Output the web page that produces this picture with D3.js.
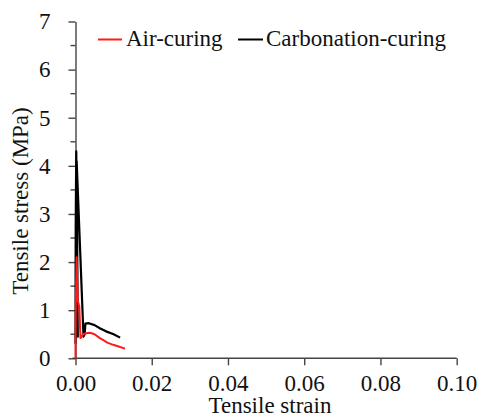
<!DOCTYPE html>
<html><head><meta charset="utf-8">
<script src="https://cdn.jsdelivr.net/npm/d3@7"></script>
<style>body{margin:0;background:#fff}svg{display:block}.lbl{font-family:'Liberation Serif';font-size:23px;fill:#111}</style>
</head><body><svg id="c" width="478" height="419"></svg>
<script>
const xTicks = [0, 0.02, 0.04, 0.06, 0.08, 0.10];
const yTicks = [0, 1, 2, 3, 4, 5, 6, 7];
const yMinor = [0.5, 1.5, 2.5, 3.5, 4.5, 5.5, 6.5];
const seriesNames = ["Air-curing", "Carbonation-curing"];
const seriesColors = ["#ff1a1a", "#000000"];
const airStrain = [0, 0, 0.0001, 0.0003, 0.0006, 0.001, 0.0013, 0.0016, 0.002, 0.0028, 0.0038, 0.005, 0.0064, 0.0073, 0.0082, 0.0092, 0.0099, 0.0115, 0.013];
const airStress = [0, 0.3, 1.2, 2.1, 1.2, 1.07, 0.42, 0.45, 0.5, 0.52, 0.53, 0.5, 0.42, 0.38, 0.33, 0.3, 0.28, 0.24, 0.2];
const carbStrain = [0, 0.00005, 0.0002, 0.0006, 0.0003, 0.0021, 0.0024, 0.0026, 0.0035, 0.005, 0.0065, 0.008, 0.01, 0.0117];
const carbStress = [0.3, 2.7, 4.3, 0.45, 4.1, 0.45, 0.5, 0.72, 0.73, 0.69, 0.62, 0.56, 0.5, 0.43];

const svg = d3.select("#c");
// warm-up text so the serif face is resolved before the real labels
svg.append("text").attr("class", "lbl").attr("x", -500).attr("y", -500).attr("opacity", 0).text("warm");

const x = d3.scaleLinear().domain([0, 0.1]).range([75.5, 456.7]);
const y = d3.scaleLinear().domain([0, 7]).range([358.3, 21.5]);
const axisColor = "#444";

// x axis
const gx = svg.append("g").attr("transform", `translate(0,${y(0)})`)
  .call(d3.axisBottom(x).tickValues(xTicks).tickFormat(d3.format(".2f")).tickSize(7).tickSizeOuter(0));
gx.attr("font-family", null).attr("font-size", null);
gx.select(".domain").attr("stroke", axisColor).attr("stroke-width", 1.4).attr("d", `M${x(0)-3},0H${x(0.1)}`);
gx.selectAll(".tick line").attr("stroke", axisColor).attr("stroke-width", 1.4);
gx.selectAll(".tick text").attr("dy", 0).attr("y", 33).attr("fill", null).attr("class", "lbl");

// y axis
const gy = svg.append("g").attr("transform", `translate(${x(0)},0)`)
  .call(d3.axisLeft(y).tickValues(yTicks).tickFormat(d3.format("d")).tickSize(7).tickPadding(18).tickSizeOuter(0));
gy.attr("font-family", null).attr("font-size", null);
gy.select(".domain").attr("stroke", axisColor).attr("stroke-width", 1.4);
gy.selectAll(".tick line").attr("stroke", axisColor).attr("stroke-width", 1.4);
gy.selectAll(".tick text").attr("fill", null).attr("class", "lbl");
gy.selectAll(".minor").data(yMinor).enter().append("line")
  .attr("x1", -5).attr("x2", 0).attr("y1", d => y(d)).attr("y2", d => y(d))
  .attr("stroke", axisColor).attr("stroke-width", 1.4);

// titles
svg.append("text").attr("class", "lbl").attr("x", 270).attr("y", 413).attr("text-anchor", "middle").text("Tensile strain");
svg.append("text").attr("class", "lbl").attr("transform", "translate(28,201) rotate(-90)").attr("text-anchor", "middle").text("Tensile stress (MPa)");

// lines
const line = d3.line().x(d => x(d[0])).y(d => y(d[1]));
const airData = airStrain.map((s, i) => [s, airStress[i]]);
const carbData = carbStrain.map((s, i) => [s, carbStress[i]]);
svg.append("path").datum(carbData).attr("d", line).attr("fill", "none").attr("stroke", seriesColors[1]).attr("stroke-width", 2.2).attr("stroke-linejoin", "round");
svg.append("path").datum(airData).attr("d", line).attr("fill", "none").attr("stroke", seriesColors[0]).attr("stroke-width", 2).attr("stroke-linejoin", "round");

// legend
const leg = [{x1: 98, x2: 122, tx: 126}, {x1: 238, x2: 263, tx: 266}];
leg.forEach((l, i) => {
  svg.append("line").attr("x1", l.x1).attr("x2", l.x2).attr("y1", 39.5).attr("y2", 39.5).attr("stroke", seriesColors[i]).attr("stroke-width", 2);
  svg.append("text").attr("class", "lbl").attr("x", l.tx).attr("y", 46).text(seriesNames[i]);
});

// force font re-resolution once fonts are available
function refont() {
  svg.selectAll("text.lbl").style("font-family", "'Liberation Serif', Tinos, 'Times New Roman', serif");
}
setTimeout(refont, 30);
if (document.fonts && document.fonts.load) {
  document.fonts.load("23px 'Liberation Serif'").then(refont).catch(() => {});
}
</script></body></html>
